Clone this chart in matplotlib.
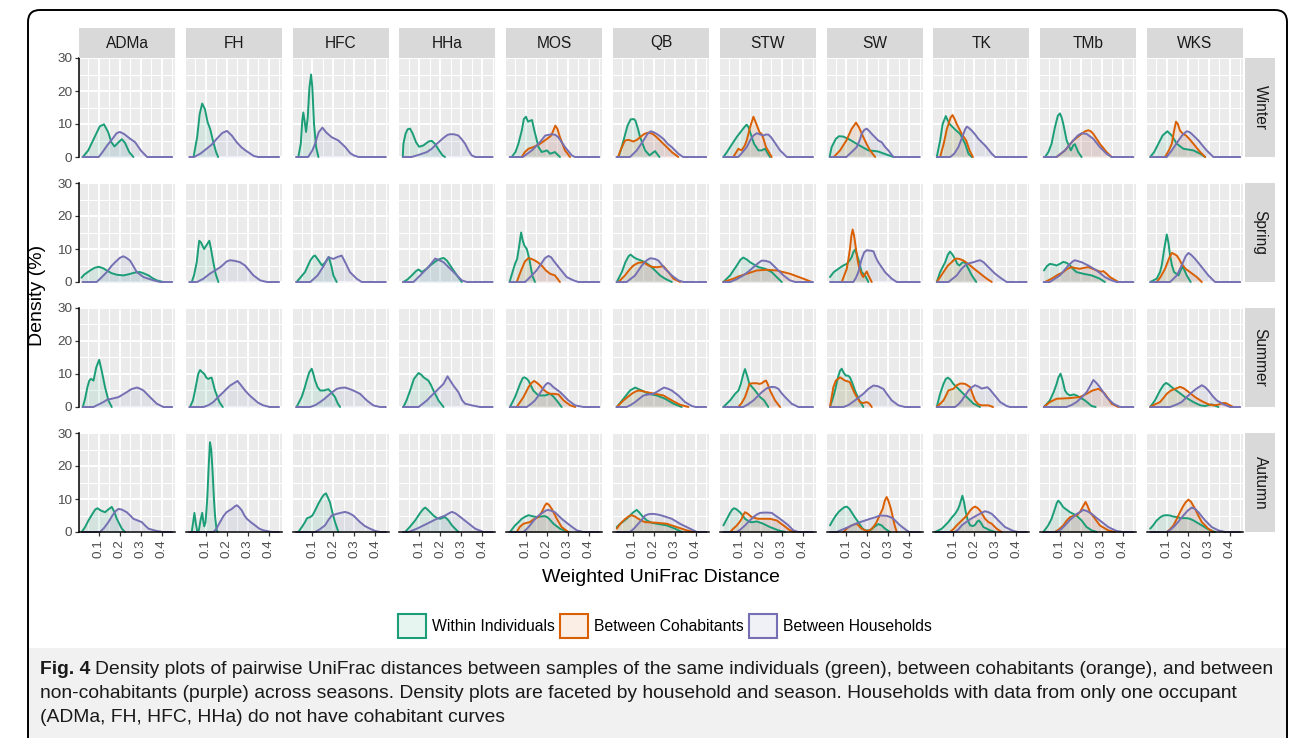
import matplotlib
matplotlib.use("Agg")
import matplotlib.pyplot as plt
from matplotlib.patches import Patch, FancyBboxPatch, Rectangle
from matplotlib.transforms import IdentityTransform
from matplotlib.colors import to_rgba

plt.rcParams['font.family'] = ['Liberation Sans', 'DejaVu Sans']

households = ['ADMa', 'FH', 'HFC', 'HHa', 'MOS', 'QB', 'STW', 'SW', 'TK', 'TMb', 'WKS']
seasons = ['Winter', 'Spring', 'Summer', 'Autumn']
groups = ['Within Individuals', 'Between Cohabitants', 'Between Households']
colors = ['#1B9E77', '#D95F02', '#7570B3']
x_ticks = [0.1, 0.2, 0.3, 0.4]
x_minor = [0.05, 0.15, 0.25, 0.35, 0.45]
y_ticks = [0, 10, 20, 30]
y_minor = [5, 15, 25]

# curves: (distance, density %) per household
winter_within = [
    [(0.024,0),(0.05,2),(0.08,6),(0.105,9.3),(0.125,9.9),(0.145,7.5),(0.16,4.5),(0.175,3.2),(0.195,4.5),(0.21,5.4),(0.225,4.3),(0.245,1.5),(0.265,0)],
    [(0.043,0),(0.06,6),(0.072,13),(0.084,16.2),(0.097,14.5),(0.11,10.5),(0.122,8.5),(0.135,5),(0.15,1.5),(0.16,0)],
    [(0.033,0),(0.045,4),(0.052,11),(0.057,13.5),(0.063,11),(0.07,7.6),(0.078,12),(0.086,21),(0.094,25),(0.1,21),(0.108,10),(0.118,3),(0.129,0)],
    [(0.022,0),(0.025,4),(0.035,7),(0.045,8.4),(0.057,8.6),(0.07,7),(0.085,4.5),(0.1,3.1),(0.12,3.5),(0.145,4.7),(0.16,4.9),(0.175,4),(0.195,2),(0.21,0.6),(0.223,0)],
    [(0.032,0),(0.05,1.5),(0.064,4),(0.08,8),(0.09,11.5),(0.1,12.2),(0.11,10.7),(0.12,11),(0.129,11.2),(0.14,8),(0.16,3),(0.175,1.5),(0.2,2),(0.215,1),(0.238,1.5),(0.262,0)],
    [(0.032,0),(0.045,2.5),(0.056,5),(0.075,9.5),(0.09,11.4),(0.105,11.5),(0.113,11),(0.125,8.5),(0.135,6),(0.159,2),(0.18,0.5),(0.206,1.8),(0.227,0)],
    [(0.023,0),(0.04,1.5),(0.055,3),(0.086,6),(0.11,8),(0.125,9.2),(0.134,9.8),(0.143,9),(0.153,7),(0.169,4),(0.19,2),(0.205,2),(0.221,2.5),(0.245,0)],
    [(0.02,0),(0.03,3),(0.05,5.5),(0.065,6.3),(0.085,6.2),(0.115,5.3),(0.16,3.6),(0.205,2),(0.25,1.7),(0.28,1),(0.325,0)],
    [(0.022,0),(0.038,5),(0.05,10),(0.065,12.4),(0.075,11),(0.083,10),(0.11,8.3),(0.133,7),(0.157,4),(0.173,1),(0.189,0)],
    [(0.029,0),(0.045,1.5),(0.06,4),(0.076,9),(0.09,12.5),(0.1,13.2),(0.108,12),(0.116,10),(0.132,5),(0.152,2),(0.163,3.5),(0.171,3.9),(0.187,1.5),(0.203,0)],
    [(0.021,0),(0.04,1.5),(0.06,4),(0.08,6.5),(0.103,7.8),(0.124,6.5),(0.148,4),(0.179,2.5),(0.227,2),(0.259,1),(0.283,0)],
]
winter_cohab = [None, None, None, None,
    [(0.08,0),(0.095,1.5),(0.112,2.5),(0.135,3),(0.167,4),(0.2,5.5),(0.22,6.5),(0.24,9.5),(0.25,8.5),(0.262,6),(0.286,2),(0.31,0)],
    [(0.03,0),(0.045,2.5),(0.063,5),(0.08,5.2),(0.103,4.7),(0.12,5.2),(0.135,6),(0.155,7),(0.175,7.4),(0.195,7),(0.214,6),(0.246,4),(0.286,1.5),(0.317,0)],
    [(0.07,0),(0.085,1.5),(0.094,2.5),(0.11,2),(0.125,3.5),(0.134,5),(0.15,9),(0.166,12.2),(0.18,10),(0.195,7.5),(0.205,7),(0.214,5.5),(0.226,3),(0.253,0)],
    [(0.04,0),(0.07,2),(0.1,5),(0.125,8.5),(0.146,10.4),(0.16,9),(0.181,6),(0.2,3.5),(0.213,2),(0.237,0)],
    [(0.038,0),(0.055,4),(0.07,8.5),(0.078,10),(0.088,12),(0.097,12.7),(0.107,11.5),(0.117,10),(0.141,7),(0.162,5),(0.178,2),(0.194,0)],
    [(0.084,0),(0.124,2),(0.163,5),(0.203,7),(0.22,7.8),(0.235,8.1),(0.247,7.8),(0.259,7),(0.29,4),(0.322,1.5),(0.346,0)],
    [(0.092,0),(0.11,2),(0.124,4),(0.135,8),(0.144,10.7),(0.153,10),(0.163,8),(0.178,7),(0.192,6.5),(0.21,5.3),(0.227,4),(0.259,1.5),(0.283,0)],
]
winter_between = [
    [(0.1,0),(0.118,1.5),(0.14,3.5),(0.165,5.5),(0.185,7.2),(0.2,7.6),(0.22,7),(0.25,5.5),(0.273,4.5),(0.3,2),(0.33,0)],
    [(0.045,0),(0.075,1),(0.105,2.5),(0.13,3.8),(0.153,5.5),(0.18,7.3),(0.202,7.9),(0.225,6.5),(0.248,4.5),(0.27,3),(0.29,2),(0.33,0.3),(0.35,0)],
    [(0.08,0),(0.1,2),(0.113,4),(0.13,7.5),(0.148,8.9),(0.165,7.5),(0.192,6),(0.224,5),(0.257,3),(0.28,1.2),(0.297,0.5),(0.32,0)],
    [(0.064,0),(0.1,0.7),(0.137,1.5),(0.16,2.5),(0.184,4),(0.216,5.8),(0.235,6.7),(0.248,6.9),(0.265,6.9),(0.287,6.5),(0.305,5.2),(0.319,4),(0.335,2),(0.35,0.5),(0.367,0)],
    [(0.085,0),(0.128,2),(0.16,4),(0.192,6.5),(0.222,6.9),(0.24,6.7),(0.254,6),(0.27,4.5),(0.286,3),(0.318,0.5),(0.333,0)],
    [(0.087,0),(0.119,2),(0.151,5),(0.17,7),(0.186,7.8),(0.2,7.5),(0.214,7),(0.23,6.3),(0.246,5.5),(0.266,4),(0.286,3),(0.317,1),(0.34,0)],
    [(0.094,0),(0.115,1.5),(0.134,3),(0.15,5),(0.166,6.5),(0.182,7.2),(0.2,6.8),(0.214,6.5),(0.225,6.8),(0.237,6.8),(0.25,6),(0.261,5),(0.293,2),(0.325,0)],
    [(0.1,0),(0.125,1.5),(0.149,3),(0.163,5),(0.173,7),(0.185,8.2),(0.197,8.6),(0.21,7.8),(0.221,7),(0.252,5),(0.268,4.5),(0.285,3),(0.3,2),(0.324,0)],
    [(0.086,0),(0.105,1),(0.125,3),(0.14,5.5),(0.149,7),(0.158,8.5),(0.165,9.2),(0.175,8.8),(0.189,8),(0.205,6.8),(0.22,5.5),(0.252,3.5),(0.284,1),(0.3,0)],
    [(0.084,0),(0.124,2),(0.163,5),(0.185,6.5),(0.203,7.2),(0.227,7),(0.259,5.5),(0.29,3),(0.322,1),(0.346,0)],
    [(0.1,0),(0.124,2),(0.14,3.5),(0.156,5),(0.175,6.7),(0.195,7.8),(0.207,7.6),(0.219,7),(0.251,5),(0.27,3.5),(0.29,2),(0.322,0)],
]

spring_within = [
    [(0.018,1.3),(0.03,2.2),(0.059,3.5),(0.08,4.3),(0.1,4.6),(0.12,4.2),(0.138,3.5),(0.16,2.7),(0.186,2.2),(0.217,2),(0.24,2.3),(0.265,2.75),(0.285,3),(0.297,3),(0.315,2.6),(0.337,2),(0.355,1.2),(0.376,0.5),(0.408,0)],
    [(0.034,0),(0.045,2),(0.058,6),(0.065,10),(0.07,12.5),(0.078,12),(0.093,10),(0.108,11.5),(0.118,12.5),(0.126,10),(0.137,6),(0.148,2.5),(0.161,0)],
    [(0.025,0),(0.045,1.5),(0.065,3),(0.09,6.5),(0.105,7.8),(0.113,8),(0.13,6.5),(0.146,5),(0.162,6),(0.178,7.6),(0.19,5),(0.2,2),(0.216,0)],
    [(0.025,0),(0.045,0.8),(0.065,2),(0.085,3.3),(0.097,3.8),(0.113,3),(0.135,4),(0.152,5),(0.184,6.5),(0.2,7),(0.216,7.3),(0.232,6.5),(0.248,5),(0.28,2),(0.303,0)],
    [(0.022,0),(0.036,3),(0.048,5.5),(0.058,7),(0.068,11),(0.077,15),(0.085,12.5),(0.093,11),(0.104,10),(0.116,7),(0.13,2),(0.143,0)],
    [(0.024,0),(0.048,3),(0.065,6),(0.08,7.8),(0.09,8.3),(0.105,7.5),(0.119,7),(0.14,6.5),(0.159,6),(0.18,5),(0.198,4),(0.23,2),(0.254,1),(0.286,0)],
    [(0.023,0),(0.055,2),(0.087,5),(0.105,6.8),(0.118,7.4),(0.135,6.8),(0.15,6),(0.19,4.5),(0.222,4),(0.253,3),(0.277,1.5),(0.301,0)],
    [(0.022,1.5),(0.04,3),(0.062,4),(0.085,5),(0.102,5.5),(0.115,6.5),(0.125,7.5),(0.133,9),(0.141,9.8),(0.149,8.5),(0.157,7),(0.165,5),(0.173,3),(0.189,2),(0.205,0)],
    [(0.022,0),(0.038,3),(0.062,6),(0.075,8.3),(0.085,9.2),(0.097,8.3),(0.109,7),(0.12,5.5),(0.13,5),(0.142,5.8),(0.152,6.1),(0.16,5.5),(0.173,4),(0.189,2),(0.21,0)],
    [(0.024,3.5),(0.038,4.8),(0.052,5.5),(0.068,5.3),(0.084,5),(0.1,5.5),(0.116,6.1),(0.132,5.8),(0.148,5),(0.165,3.8),(0.179,3),(0.211,2.5),(0.251,2),(0.29,1),(0.314,0)],
    [(0.021,0),(0.052,1),(0.068,3),(0.076,5),(0.088,10),(0.1,14.4),(0.108,12),(0.116,8),(0.125,5),(0.135,3),(0.156,2),(0.168,3.8),(0.176,4.6),(0.185,3.5),(0.195,2),(0.214,0)],
]
spring_cohab = [None, None, None, None,
    [(0.056,0),(0.068,2),(0.08,4),(0.095,6.2),(0.111,7.2),(0.127,7),(0.143,6.5),(0.16,5.8),(0.175,5),(0.195,3.5),(0.215,2.5),(0.238,2),(0.25,1),(0.262,0)],
    [(0.032,0),(0.063,2),(0.085,3.8),(0.103,5),(0.125,5.8),(0.151,6),(0.175,5),(0.198,4.5),(0.22,4.5),(0.246,4.8),(0.27,3),(0.294,1),(0.326,0)],
    [(0.023,0),(0.071,1),(0.1,1.8),(0.134,2.5),(0.182,3.5),(0.23,3.7),(0.277,3.5),(0.34,2.5),(0.404,1),(0.444,0)],
    [(0.078,0),(0.102,4),(0.11,7),(0.117,10),(0.124,14),(0.13,15.9),(0.137,14),(0.146,10),(0.154,6.5),(0.162,4),(0.175,2),(0.181,1.5),(0.19,2.5),(0.197,3.2),(0.205,2),(0.221,0)],
    [(0.022,0),(0.054,3),(0.075,5),(0.093,6),(0.105,6.8),(0.117,7.1),(0.13,7),(0.149,6.5),(0.165,5.8),(0.181,5),(0.2,4),(0.22,3),(0.26,1),(0.284,0)],
    [(0.029,0),(0.06,1),(0.09,2.2),(0.116,3),(0.135,4),(0.156,4.5),(0.175,4.2),(0.195,4),(0.215,4.3),(0.235,4.5),(0.255,4),(0.275,3.5),(0.295,3.1),(0.306,3.3),(0.322,2.5),(0.338,1.5),(0.378,0)],
    [(0.052,0),(0.07,1.5),(0.092,4),(0.11,7),(0.124,8.8),(0.135,8.5),(0.148,8),(0.16,6.8),(0.171,5.5),(0.19,4),(0.211,3),(0.243,1.5),(0.267,0)],
]
spring_between = [
    [(0.09,0),(0.115,1.5),(0.138,3),(0.16,4.8),(0.178,6),(0.2,7.3),(0.217,7.8),(0.232,7.3),(0.249,6.5),(0.265,4.8),(0.281,3),(0.313,1.5),(0.36,0.5),(0.392,0)],
    [(0.06,0),(0.09,1),(0.12,2.5),(0.153,3.8),(0.17,4.5),(0.185,5.3),(0.2,6.2),(0.217,6.6),(0.24,6.4),(0.264,6),(0.288,5),(0.308,3.5),(0.328,2),(0.36,0.5),(0.392,0)],
    [(0.09,0),(0.125,2),(0.155,5),(0.176,7.5),(0.2,7),(0.22,7.6),(0.24,8),(0.26,5.5),(0.279,3),(0.311,1),(0.335,0)],
    [(0.073,0),(0.105,2),(0.125,3.3),(0.144,4.5),(0.16,5.8),(0.176,7.1),(0.19,6.8),(0.216,6),(0.248,4),(0.28,2),(0.303,0.5),(0.327,0)],
    [(0.096,0),(0.128,2),(0.15,3.5),(0.167,5),(0.19,7.2),(0.207,7.9),(0.22,7.5),(0.231,6.5),(0.262,4),(0.294,1.5),(0.326,0.5),(0.35,0)],
    [(0.071,0),(0.111,2),(0.143,5),(0.165,6.5),(0.183,7.2),(0.205,7),(0.222,6.5),(0.254,4),(0.286,2),(0.317,0.5),(0.341,0)],
    [(0.055,0),(0.085,0.8),(0.118,2),(0.145,3.3),(0.166,4.5),(0.19,5.8),(0.206,6.5),(0.225,6.4),(0.245,6),(0.277,4),(0.309,2),(0.34,0.5),(0.365,0)],
    [(0.133,0),(0.145,1.2),(0.157,3),(0.165,5),(0.173,7),(0.185,9),(0.197,9.6),(0.215,9.5),(0.229,9.3),(0.24,7.5),(0.252,6),(0.284,3),(0.316,1),(0.34,0)],
    [(0.078,0),(0.117,2),(0.14,4),(0.165,5.5),(0.197,6),(0.215,6.4),(0.228,6.6),(0.245,6),(0.26,5),(0.3,2.5),(0.331,1),(0.355,0)],
    [(0.052,0),(0.1,2),(0.14,5),(0.16,6.2),(0.171,6.6),(0.203,6),(0.235,5),(0.275,3.5),(0.314,1.5),(0.346,0.5),(0.37,0)],
    [(0.116,0),(0.148,2),(0.171,5),(0.19,7.8),(0.203,8.8),(0.215,8.3),(0.235,7),(0.267,4.5),(0.298,2),(0.33,0)],
]

summer_within = [
    [(0.024,0),(0.035,2.5),(0.046,6),(0.055,8),(0.062,8.5),(0.07,8.3),(0.075,8),(0.088,12),(0.102,14.3),(0.114,11),(0.13,6),(0.146,2),(0.162,0)],
    [(0.026,0),(0.04,2),(0.05,5),(0.065,10),(0.074,11.2),(0.085,10.5),(0.094,10),(0.105,8.8),(0.113,8.5),(0.122,8.8),(0.129,8.9),(0.137,7),(0.145,5),(0.166,1.5),(0.182,0)],
    [(0.025,0),(0.049,3),(0.062,5.5),(0.073,8),(0.085,10.5),(0.097,11.6),(0.105,10),(0.113,8),(0.125,6),(0.137,5),(0.155,5),(0.176,5.4),(0.19,4.5),(0.208,3),(0.22,1.2),(0.232,0)],
    [(0.025,0),(0.04,2),(0.057,5),(0.075,8.5),(0.097,10.3),(0.11,9.8),(0.121,9),(0.144,8),(0.155,6.8),(0.168,5),(0.192,2),(0.216,0)],
    [(0.024,0),(0.048,3),(0.072,7),(0.085,8.8),(0.093,9),(0.103,8.6),(0.112,8),(0.135,5),(0.159,3.5),(0.191,3.5),(0.215,4),(0.23,3.2),(0.246,2),(0.27,0)],
    [(0.024,0),(0.056,2.5),(0.087,5),(0.111,5.9),(0.143,5),(0.175,4),(0.214,3.5),(0.254,2.5),(0.294,1),(0.333,0)],
    [(0.023,0),(0.055,2),(0.079,4),(0.095,5),(0.106,7),(0.118,10),(0.126,11.5),(0.136,9.5),(0.147,7),(0.174,5),(0.198,3),(0.217,2),(0.237,0)],
    [(0.022,0),(0.035,2.5),(0.046,5),(0.06,9),(0.07,11),(0.078,11.6),(0.088,10.3),(0.098,9.5),(0.108,9.5),(0.117,9),(0.13,7),(0.141,5),(0.162,2),(0.181,0)],
    [(0.022,0),(0.038,4),(0.054,7),(0.065,8.5),(0.075,8.9),(0.087,8.3),(0.101,7),(0.133,5),(0.165,3),(0.197,1),(0.228,0)],
    [(0.024,0),(0.052,2),(0.07,4.5),(0.084,7),(0.093,9),(0.103,10.1),(0.113,8),(0.124,5),(0.135,4),(0.148,3.5),(0.165,3.8),(0.179,3.5),(0.219,2),(0.251,0.3),(0.27,0)],
    [(0.021,0),(0.044,2),(0.068,5),(0.085,6.7),(0.097,7.3),(0.11,6.8),(0.124,6),(0.156,4.5),(0.187,3),(0.227,1.5),(0.26,0.5),(0.283,0.3),(0.3,0.6),(0.314,0.8),(0.33,0.4),(0.346,0)],
]
summer_cohab = [None, None, None, None,
    [(0.056,0),(0.072,1.5),(0.088,3),(0.1,4.5),(0.112,6),(0.125,7.2),(0.139,7.9),(0.153,7.3),(0.167,6.5),(0.185,5.2),(0.199,4.5),(0.215,4),(0.231,4),(0.245,3.9),(0.255,3.8),(0.279,2),(0.311,0.5),(0.335,0)],
    [(0.024,0),(0.056,2),(0.075,3),(0.095,4),(0.11,4.6),(0.127,5),(0.147,4.8),(0.167,4.5),(0.206,4),(0.246,3.5),(0.286,2),(0.325,0.7),(0.365,0)],
    [(0.094,0),(0.11,1.2),(0.126,3),(0.137,5),(0.147,7),(0.16,7.2),(0.182,7.2),(0.195,7),(0.206,7.2),(0.218,7.8),(0.226,8),(0.235,6.8),(0.245,5),(0.269,2),(0.293,0)],
    [(0.022,0),(0.03,3),(0.038,6),(0.05,8),(0.07,9),(0.082,8.5),(0.094,8),(0.105,7.8),(0.117,7.5),(0.13,5.5),(0.141,4),(0.155,2.5),(0.165,1.5),(0.18,1.2),(0.197,1.5),(0.21,1),(0.221,0)],
    [(0.022,0),(0.035,0.8),(0.054,2),(0.07,4),(0.077,5),(0.09,5.3),(0.101,5.5),(0.115,6.5),(0.133,7.1),(0.145,7.1),(0.157,7),(0.17,6.5),(0.181,6),(0.192,4),(0.204,2),(0.22,0.8),(0.236,0.5),(0.268,0.5),(0.29,0)],
    [(0.024,0),(0.052,1.5),(0.084,2.5),(0.116,2.6),(0.148,2.7),(0.175,2.9),(0.195,3),(0.227,4),(0.255,5),(0.283,5.5),(0.3,4.8),(0.314,4),(0.33,2.5),(0.346,1),(0.378,0)],
    [(0.021,0),(0.044,0.8),(0.068,1.5),(0.084,2.7),(0.1,4),(0.12,5),(0.14,5.5),(0.163,6.1),(0.18,5.7),(0.195,5),(0.215,4),(0.235,3),(0.255,2.2),(0.275,1.5),(0.3,0.8),(0.322,0.5),(0.345,0.7),(0.365,1.2),(0.38,1.2),(0.395,0.7),(0.417,0)],
]
summer_between = [
    [(0.075,0),(0.1,0.8),(0.122,1.5),(0.14,2.2),(0.162,2.5),(0.194,3),(0.215,3.8),(0.233,4.5),(0.255,5.4),(0.281,5.9),(0.295,5.6),(0.313,5),(0.344,3),(0.376,1),(0.408,0)],
    [(0.09,0),(0.115,0.6),(0.137,1.5),(0.16,3),(0.185,4.5),(0.2,5.5),(0.217,6.5),(0.235,7.2),(0.252,7.9),(0.27,6.5),(0.288,5),(0.31,3.5),(0.328,2.5),(0.35,1.3),(0.375,0.5),(0.406,0)],
    [(0.089,0),(0.115,0.6),(0.137,1.5),(0.158,2.5),(0.176,3.5),(0.195,4.5),(0.216,5.5),(0.235,5.8),(0.256,5.9),(0.275,5.5),(0.295,5),(0.327,4),(0.359,2),(0.39,0.5),(0.422,0)],
    [(0.097,0),(0.137,2),(0.16,3.5),(0.184,5),(0.2,6),(0.216,7),(0.235,9.3),(0.25,7.8),(0.263,6.5),(0.287,4.5),(0.305,2),(0.319,1),(0.351,0.5),(0.39,0)],
    [(0.104,0),(0.125,1),(0.143,2),(0.16,3.5),(0.175,5),(0.19,6.5),(0.203,7.3),(0.215,7),(0.231,6),(0.263,4.5),(0.302,2),(0.334,0.5),(0.374,0)],
    [(0.071,0),(0.09,0.6),(0.111,1.5),(0.151,3.5),(0.175,3.8),(0.198,4),(0.22,4.8),(0.238,5.5),(0.249,5.9),(0.265,5.6),(0.286,5),(0.317,3.5),(0.349,1.5),(0.381,0.3),(0.4,0)],
    [(0.118,0),(0.14,0.8),(0.166,2),(0.19,3.5),(0.206,4.5),(0.23,5.7),(0.253,6.1),(0.27,6),(0.285,5.5),(0.3,4.2),(0.317,3),(0.348,1),(0.38,0)],
    [(0.086,0),(0.11,0.6),(0.141,2),(0.16,3),(0.181,4),(0.205,5.5),(0.229,6.5),(0.25,6.3),(0.276,5.5),(0.295,3.8),(0.316,2),(0.348,0.5),(0.379,0)],
    [(0.109,0),(0.125,0.8),(0.141,2),(0.157,3.5),(0.173,5),(0.19,6),(0.204,6.6),(0.22,6.2),(0.236,5.6),(0.25,5.8),(0.263,6),(0.275,5.3),(0.292,4),(0.324,1.5),(0.355,0.3),(0.37,0)],
    [(0.132,0),(0.155,0.6),(0.179,1.5),(0.205,3),(0.227,4.5),(0.245,6.5),(0.259,8.2),(0.275,7.2),(0.29,6),(0.322,3),(0.354,1),(0.386,0)],
    [(0.116,0),(0.145,0.7),(0.171,1.5),(0.195,3),(0.211,4),(0.24,5.5),(0.267,6.6),(0.283,6),(0.298,5),(0.32,3.2),(0.338,2),(0.37,0.8),(0.402,0)],
]

autumn_within = [
    [(0.019,0),(0.035,1.5),(0.051,3.5),(0.07,5.5),(0.083,6.8),(0.094,7.2),(0.11,6.5),(0.13,6),(0.145,6.8),(0.162,7.6),(0.175,6),(0.186,4),(0.21,1),(0.225,0)],
    [(0.034,0),(0.04,2.5),(0.047,5.8),(0.054,2.5),(0.061,0),(0.068,0.5),(0.076,3.5),(0.084,5.8),(0.09,3),(0.094,1.7),(0.1,3),(0.108,10),(0.115,20),(0.121,27.2),(0.127,25),(0.133,19),(0.14,10),(0.145,5),(0.152,1),(0.157,0)],
    [(0.033,0),(0.05,1.5),(0.065,3),(0.075,4.2),(0.089,4.5),(0.1,5),(0.113,6.5),(0.128,8.5),(0.144,10.3),(0.155,11.3),(0.165,11.7),(0.175,10.3),(0.184,9),(0.195,6),(0.208,3),(0.224,0)],
    [(0.033,0),(0.055,1.5),(0.081,3.5),(0.105,5.8),(0.12,7),(0.129,7.4),(0.145,6.5),(0.168,5),(0.185,4.2),(0.2,4),(0.212,4.3),(0.224,4.5),(0.24,3.5),(0.256,2),(0.287,0)],
    [(0.024,0),(0.048,2),(0.065,3),(0.08,4),(0.095,4.6),(0.112,5.1),(0.13,4.8),(0.151,4.5),(0.17,4.7),(0.191,4.8),(0.206,4.3),(0.22,3.3),(0.231,2.5),(0.262,1),(0.302,0)],
    [(0.024,1.5),(0.04,2.5),(0.055,3.2),(0.071,4),(0.087,5),(0.103,6),(0.119,6.7),(0.13,6),(0.143,5),(0.167,3.5),(0.19,2.8),(0.214,2.5),(0.262,2),(0.302,1),(0.333,0)],
    [(0.023,2),(0.04,4),(0.055,5.8),(0.065,6.8),(0.074,7.2),(0.085,6.9),(0.102,6),(0.115,5),(0.126,4),(0.15,3),(0.165,3),(0.182,3.2),(0.213,2.5),(0.245,1.5),(0.285,0.5),(0.317,0)],
    [(0.022,2),(0.035,3.5),(0.05,5),(0.065,6.2),(0.08,7),(0.09,7.5),(0.102,7.7),(0.115,7),(0.125,6),(0.14,4.5),(0.157,3),(0.175,1.2),(0.189,0.5),(0.213,0.5),(0.232,1.5),(0.252,2.4),(0.268,2),(0.284,1),(0.308,0)],
    [(0.014,0),(0.046,1),(0.077,3),(0.095,4.5),(0.109,5.5),(0.122,6.8),(0.13,8),(0.137,9.5),(0.144,11),(0.152,9),(0.16,6),(0.17,3.5),(0.181,2),(0.195,1.8),(0.205,2.2),(0.215,3.2),(0.223,3.5),(0.232,2.8),(0.244,1.5),(0.276,0.5),(0.3,0)],
    [(0.021,0),(0.044,2),(0.06,4),(0.076,7),(0.085,8.8),(0.092,9.5),(0.1,9),(0.116,7.5),(0.148,6),(0.179,5),(0.203,3.5),(0.227,1.5),(0.251,0.5),(0.275,0)],
    [(0.021,1),(0.035,2),(0.052,3.5),(0.07,4.5),(0.084,5),(0.1,5.1),(0.116,5),(0.13,4.7),(0.148,4.5),(0.17,4.2),(0.195,4.2),(0.21,4),(0.227,3.5),(0.267,2),(0.298,0.8),(0.33,0)],
]
autumn_cohab = [None, None, None, None,
    [(0.056,0),(0.07,1.5),(0.088,2.5),(0.105,2.8),(0.119,3),(0.135,3.8),(0.159,4.5),(0.175,6),(0.19,8),(0.199,8.7),(0.21,8.2),(0.223,7),(0.235,5.5),(0.247,4),(0.27,1.5),(0.302,0)],
    [(0.024,1),(0.035,2),(0.048,3),(0.065,4),(0.08,4.7),(0.095,5.1),(0.11,4.7),(0.127,4),(0.143,3.4),(0.159,3),(0.185,2.9),(0.214,2.8),(0.262,2.5),(0.309,1.5),(0.357,0.5),(0.389,0)],
    [(0.055,0),(0.07,1),(0.087,2),(0.1,3),(0.11,4),(0.118,5.2),(0.126,6),(0.14,5.5),(0.158,4.5),(0.175,4.2),(0.19,4),(0.22,4),(0.245,4),(0.277,3.5),(0.309,2),(0.34,0.5),(0.364,0)],
    [(0.086,0),(0.105,1.2),(0.125,2),(0.149,2.5),(0.165,1.5),(0.173,1),(0.197,0.3),(0.21,0.5),(0.221,1),(0.234,2),(0.244,3),(0.258,5),(0.273,7),(0.283,9.5),(0.292,10.6),(0.3,9.5),(0.31,7.5),(0.316,6),(0.33,2),(0.34,0)],
    [(0.085,0),(0.1,0.8),(0.117,2),(0.133,3),(0.149,4),(0.165,5),(0.181,6.5),(0.193,7.3),(0.204,7.7),(0.216,7.3),(0.228,6.5),(0.252,4),(0.268,3),(0.284,2.5),(0.307,1),(0.331,0)],
    [(0.076,0),(0.095,0.8),(0.116,2),(0.13,3.3),(0.148,4.5),(0.165,4.9),(0.179,5),(0.195,6),(0.21,7.8),(0.222,9.1),(0.232,7.8),(0.243,6),(0.267,4),(0.29,2),(0.33,0.5),(0.362,0)],
    [(0.1,0),(0.115,0.8),(0.132,2),(0.148,4),(0.163,6),(0.178,7.8),(0.19,9),(0.203,9.8),(0.215,9.2),(0.235,7),(0.25,5),(0.267,3),(0.298,1),(0.322,0)],
]
autumn_between = [
    [(0.106,0),(0.125,1.2),(0.146,3),(0.165,5),(0.18,6.3),(0.194,7),(0.21,6.8),(0.233,6),(0.25,5),(0.265,4),(0.285,3.5),(0.305,3),(0.32,2),(0.337,1),(0.376,0.3),(0.408,0)],
    [(0.137,0),(0.15,0.8),(0.169,3),(0.185,4.8),(0.2,6),(0.212,6.5),(0.225,7),(0.24,7.8),(0.249,8.1),(0.26,7.5),(0.273,6.5),(0.285,5),(0.297,4),(0.315,3),(0.336,2),(0.356,1),(0.376,0.5),(0.415,0)],
    [(0.113,0),(0.135,0.8),(0.16,2),(0.175,3.5),(0.192,5),(0.216,5.5),(0.235,5.8),(0.256,6.1),(0.275,5.7),(0.295,5),(0.327,3),(0.35,1.8),(0.375,1),(0.4,0.3),(0.422,0)],
    [(0.049,0),(0.089,1),(0.137,2.5),(0.184,4),(0.224,5),(0.24,5.6),(0.256,6.1),(0.272,5.7),(0.287,5),(0.327,3),(0.367,1),(0.406,0)],
    [(0.088,0),(0.105,1),(0.119,2),(0.135,3.3),(0.151,4.5),(0.167,5.3),(0.183,6),(0.195,6.5),(0.207,6.7),(0.222,6.4),(0.238,6),(0.254,5),(0.27,4),(0.31,2),(0.342,0.5),(0.373,0)],
    [(0.087,0),(0.105,1),(0.119,2),(0.14,3.5),(0.159,5),(0.175,5.4),(0.198,5.5),(0.218,5.3),(0.238,5),(0.262,4.5),(0.286,4),(0.325,2.5),(0.373,1),(0.405,0)],
    [(0.087,0),(0.105,0.8),(0.126,2),(0.145,3.3),(0.166,4.5),(0.182,5.3),(0.198,5.8),(0.225,5.9),(0.253,5.8),(0.27,5),(0.293,4),(0.333,2),(0.356,0.5),(0.38,0)],
    [(0.054,0),(0.08,0.7),(0.11,1.5),(0.14,2.4),(0.165,3),(0.19,3.5),(0.213,4),(0.24,4.5),(0.26,5),(0.292,4.9),(0.31,4.5),(0.324,4),(0.34,3),(0.356,2),(0.387,0.5),(0.4,0)],
    [(0.109,0),(0.125,0.8),(0.141,2),(0.157,2.8),(0.173,3.5),(0.19,4.2),(0.212,5),(0.235,5.8),(0.252,6.3),(0.268,6),(0.284,5.5),(0.3,4.5),(0.315,3.5),(0.347,1.5),(0.387,0.3),(0.41,0)],
    [(0.084,0),(0.105,0.8),(0.124,2),(0.145,3.5),(0.163,4.5),(0.18,5.5),(0.195,6),(0.211,6.7),(0.23,6.3),(0.251,5.5),(0.27,4.5),(0.29,3.5),(0.33,1.5),(0.37,0.3),(0.4,0)],
    [(0.1,0),(0.12,0.8),(0.14,2),(0.16,3.5),(0.179,5),(0.2,6.5),(0.219,7.4),(0.235,7),(0.251,6),(0.267,4.7),(0.283,3.5),(0.314,1.5),(0.346,0.5),(0.378,0)],
]

season_curves = [
    (winter_within, winter_cohab, winter_between),
    (spring_within, spring_cohab, spring_between),
    (summer_within, summer_cohab, summer_between),
    (autumn_within, autumn_cohab, autumn_between),
]

caption_bold = "Fig. 4"
caption_lines = [
    "Density plots of pairwise UniFrac distances between samples of the same individuals (green), between cohabitants (orange), and between",
    "non-cohabitants (purple) across seasons. Density plots are faceted by household and season. Households with data from only one occupant",
    "(ADMa, FH, HFC, HHa) do not have cohabitant curves",
]

W, H = 1290, 738
fig = plt.figure(figsize=(W / 100, H / 100), dpi=100)


def box(left, top, w, h):
    return [left / W, 1 - (top + h) / H, w / W, h / H]


# outer frame and caption band
fig.patches.append(Rectangle((29, 0), 1257, 90, transform=IdentityTransform(),
                             facecolor='#F1F1F1', edgecolor='none', zorder=0))
fig.patches.append(FancyBboxPatch((28, -40), 1259, 768, transform=IdentityTransform(),
                                  boxstyle='round,pad=0,rounding_size=12',
                                  fill=False, edgecolor='black', lw=1.4, zorder=1))

PX, PY, PW, PH = 79, 58, 96, 99
DX, DY = 106.8, 125

for j, season in enumerate(seasons):
    for i, hh in enumerate(households):
        ax = fig.add_axes(box(PX + DX * i, PY + DY * j, PW, PH))
        ax.set_facecolor('#EBEBEB')
        ax.set_xlim(0.006, 0.463)
        ax.set_ylim(0, 30)
        ax.set_xticks(x_ticks)
        ax.set_xticks(x_minor, minor=True)
        ax.set_yticks(y_ticks)
        ax.set_yticks(y_minor, minor=True)
        ax.grid(which='major', color='white', lw=1.4)
        ax.grid(which='minor', color='white', lw=0.75)
        ax.set_axisbelow(True)
        for s in ax.spines.values():
            s.set_visible(False)
        ax.tick_params(which='minor', length=0)
        ax.tick_params(which='major', length=0, labelleft=False, labelbottom=False)

        if i == 0:
            ax.spines['left'].set_visible(True)
            ax.spines['left'].set_linewidth(1.1)
            ax.tick_params(axis='y', which='major', length=3, width=0.9, color='#333333',
                           labelleft=True, labelsize=9.7, labelcolor='#4D4D4D', pad=2)
        if j == len(seasons) - 1:
            ax.spines['bottom'].set_visible(True)
            ax.spines['bottom'].set_linewidth(1.1)
            ax.tick_params(axis='x', which='major', length=3, width=0.9, color='#333333',
                           labelbottom=True, labelsize=9.7, labelcolor='#4D4D4D',
                           labelrotation=90, pad=2)

        for g in range(3):
            pts = season_curves[j][g][i]
            if pts is None:
                continue
            xs = [p[0] for p in pts]
            ys = [p[1] for p in pts]
            if g == 2:
                xs = [0.022] + xs + [0.45]
                ys = [0] + ys + [0]
            ax.fill_between(xs, ys, color=colors[g], alpha=0.1, lw=0)
            ax.plot(xs, ys, color=colors[g], lw=1.4, solid_joinstyle='round',
                    solid_capstyle='round', clip_on=False)

        if j == 0:
            sax = fig.add_axes(box(PX + DX * i, 28, PW, 30))
            sax.set_facecolor('#D9D9D9')
            sax.set_xticks([]); sax.set_yticks([])
            for s in sax.spines.values():
                s.set_visible(False)
            sax.text(0.5, 0.5, hh, ha='center', va='center', fontsize=11.2,
                     color='#1A1A1A', transform=sax.transAxes)
        if i == len(households) - 1:
            rax = fig.add_axes(box(1245, PY + DY * j, 30, PH))
            rax.set_facecolor('#D9D9D9')
            rax.set_xticks([]); rax.set_yticks([])
            for s in rax.spines.values():
                s.set_visible(False)
            rax.text(0.5, 0.5, season, ha='center', va='center', fontsize=11.2,
                     color='#1A1A1A', rotation=270, transform=rax.transAxes)

fig.text(38 / W, 1 - 295 / H, 'Density (%)', rotation=90, ha='center', va='center',
         fontsize=14)
fig.text(661 / W, 1 - 577 / H, 'Weighted UniFrac Distance', ha='center', va='center',
         fontsize=14)

handles = [Patch(facecolor=to_rgba(c, 0.1), edgecolor=c, lw=1.5) for c in colors]
fig.legend(handles, groups, loc='center', bbox_to_anchor=(665 / W, 1 - 626 / H), ncol=3,
           frameon=False, fontsize=11.3, handlelength=1.8, handleheight=1.9,
           handletextpad=0.4, columnspacing=0.3)

renderer = fig.canvas.get_renderer()
cap_fs = 13.9
t = fig.text(40 / W, 1 - 669 / H, caption_bold, weight='bold', fontsize=cap_fs,
             va='center', color='#1A1A1A')
bb = t.get_window_extent(renderer)
fig.text((bb.x1 + 5) / W, 1 - 669 / H, caption_lines[0], fontsize=cap_fs, va='center',
         color='#1A1A1A')
for k, line in enumerate(caption_lines[1:]):
    fig.text(40 / W, 1 - (693 + 24 * k) / H, line, fontsize=cap_fs, va='center',
             color='#1A1A1A')

fig.savefig('out.png', dpi=100)
